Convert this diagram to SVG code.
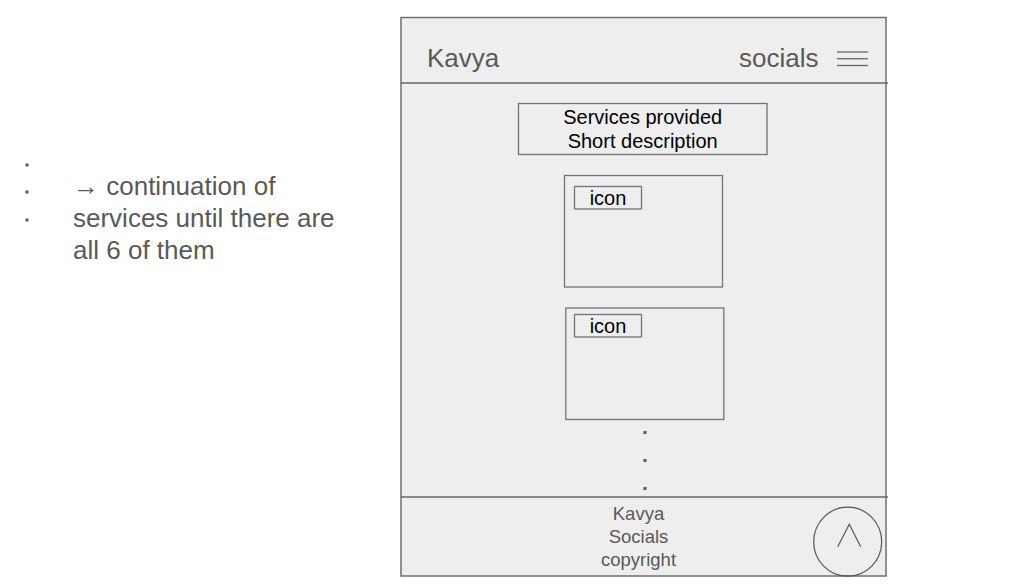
<svg xmlns="http://www.w3.org/2000/svg" width="1027" height="587" viewBox="0 0 1027 587">
<style>
.frame{fill:#eeeeee;stroke:#6f6f6f;stroke-width:1.5}
.box{fill:#eeeeee;stroke:#747474;stroke-width:1.3}
.ln{stroke:#666666;stroke-width:1.3;fill:none}
.g{font-family:"Liberation Sans",Arial,sans-serif;fill:#595959}
.k{font-family:"Liberation Sans",Arial,sans-serif;fill:#000000}
.dot{fill:#595959}
</style>
<rect width="1027" height="587" fill="#ffffff"/>
<g id="note">
<rect class="dot" x="25.5" y="163.5" width="3" height="3"/>
<rect class="dot" x="25.5" y="190.5" width="3" height="3"/>
<rect class="dot" x="25.5" y="218.5" width="3" height="3"/>
<text class="g" font-size="26" x="73" y="195">→ continuation of</text>
<text class="g" font-size="26" x="73" y="227">services until there are</text>
<text class="g" font-size="26" x="73" y="259">all 6 of them</text>
</g>
<g id="page">
<rect class="frame" x="401" y="17.5" width="485" height="558.5"/>
</g>
<g id="connectors">
<line class="ln" x1="401" y1="83" x2="888" y2="83"/>
<line class="ln" x1="401" y1="497" x2="888" y2="497"/>
</g>
<g id="header">
<text class="g" font-size="26" x="427" y="67">Kavya</text>
<text class="g" font-size="26" x="739" y="67">socials</text>
<line class="ln" x1="837" y1="52" x2="868" y2="52"/>
<line class="ln" x1="837" y1="58.7" x2="868" y2="58.7"/>
<line class="ln" x1="837" y1="65.5" x2="868" y2="65.5"/>
</g>
<g id="services">
<rect class="box" x="518.5" y="103.5" width="248.5" height="51"/>
<text class="k" font-size="20" x="642.7" y="124" text-anchor="middle">Services provided</text>
<text class="k" font-size="20" x="642.7" y="148" text-anchor="middle">Short description</text>
</g>
<g id="card1">
<rect class="box" x="564.5" y="175.5" width="158" height="111.5"/>
<rect class="box" x="574.5" y="186.5" width="67" height="22.5"/>
<text class="k" font-size="20" x="608" y="205" text-anchor="middle">icon</text>
</g>
<g id="card2">
<rect class="box" x="565.8" y="308" width="158" height="111.5"/>
<rect class="box" x="574.5" y="314.5" width="67" height="22.5"/>
<text class="k" font-size="20" x="608" y="333" text-anchor="middle">icon</text>
</g>
<g id="more">
<rect class="dot" x="643.5" y="431" width="3" height="3"/>
<rect class="dot" x="643.5" y="459" width="3" height="3"/>
<rect class="dot" x="643.5" y="487" width="3" height="3"/>
</g>
<g id="footer">
<text class="g" font-size="18.5" x="638.5" y="520" text-anchor="middle">Kavya</text>
<text class="g" font-size="18.5" x="638.5" y="543" text-anchor="middle">Socials</text>
<text class="g" font-size="18.5" x="638.5" y="566" text-anchor="middle">copyright</text>
</g>
<g id="top-button">
<ellipse cx="847.7" cy="541.7" rx="34" ry="34.5" fill="none" stroke="#555555" stroke-width="1.2"/>
<polyline points="837.7,546.7 849.3,524.3 860.7,546.7" fill="none" stroke="#555555" stroke-width="1.2"/>
</g>
</svg>
